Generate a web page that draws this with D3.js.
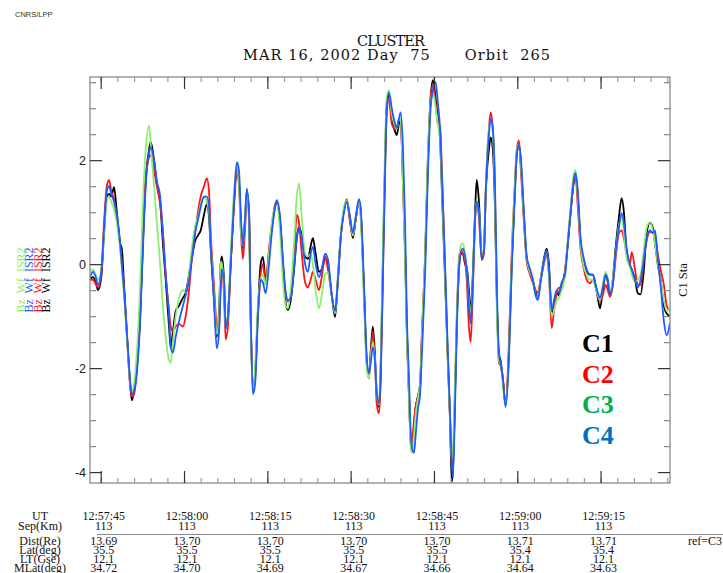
<!DOCTYPE html>
<html>
<head>
<meta charset="utf-8">
<script src="https://cdn.jsdelivr.net/npm/d3@7"></script>
<style>
  body { margin: 0; background: #fff; }
  svg { display: block; }
  text { white-space: pre; }
</style>
</head>
<body>
<svg id="chart" width="723" height="573"></svg>
<script>
// Sample times, seconds after 12:57:00 UT
const seconds = [
  43.1, 43.6, 44.1, 44.5, 45.1, 45.6, 46.1, 46.5, 46.9, 47.4,
  47.9, 48.5, 48.8, 49.2, 49.7, 50.3, 50.6, 51.0, 51.5, 52.1,
  52.6, 53.1, 53.7, 54.0, 54.6, 55.1, 55.7, 56.2, 56.7, 57.3,
  57.6, 58.0, 58.5, 59.1, 59.8, 60.3, 60.9, 61.4, 62.0, 62.5,
  63.0, 63.6, 64.1, 64.5, 64.8, 65.4, 65.9, 66.3, 66.6, 66.8,
  67.2, 67.5, 67.9, 68.4, 69.0, 69.5, 69.9, 70.2, 70.6, 71.0,
  71.3, 71.7, 72.0, 72.4, 72.8, 73.3, 73.8, 74.2, 74.7, 75.3,
  75.8, 76.4, 76.7, 77.3, 77.8, 78.3, 78.7, 79.2, 79.8, 80.3,
  80.7, 81.2, 81.8, 82.3, 82.8, 83.2, 83.7, 84.3, 84.8, 85.4,
  85.9, 86.6, 87.2, 87.7, 88.2, 88.8, 89.3, 89.9, 90.4, 90.9,
  91.5, 91.8, 92.4, 92.9, 93.3, 93.6, 94.0, 94.4, 94.7, 95.1,
  95.4, 95.8, 96.2, 96.5, 96.9, 97.4, 98.0, 98.3, 98.7, 99.0,
  99.4, 99.8, 100.1, 100.5, 100.8, 101.0, 101.4, 101.7, 102.1, 102.5,
  102.8, 103.4, 103.9, 104.4, 104.8, 105.3, 105.7, 106.1, 106.4, 107.0,
  107.5, 107.9, 108.2, 108.4, 108.8, 109.1, 109.5, 109.8, 110.2, 110.6,
  110.9, 111.3, 111.6, 112.0, 112.4, 112.7, 113.1, 113.6, 114.0, 114.3,
  114.9, 115.2, 115.6, 116.0, 116.3, 116.7, 117.0, 117.4, 117.9, 118.5,
  119.0, 119.6, 119.9, 120.3, 120.6, 121.2, 121.7, 122.3, 122.8, 123.3,
  123.7, 124.2, 124.8, 125.3, 125.7, 126.2, 126.6, 127.1, 127.5, 128.0,
  128.6, 129.1, 129.6, 130.2, 130.5, 130.9, 131.4, 132.0, 132.5, 133.1,
  133.6, 134.1, 134.5, 134.9, 135.4, 135.9, 136.3, 136.7, 137.2, 137.7,
  138.3, 138.8, 139.2, 139.7, 140.3, 140.6, 141.2, 141.7, 142.2, 142.8,
  143.3, 143.9, 144.4, 144.8, 145.3, 145.8, 146.4, 146.9, 147.5
];

// Bz waveform (nT), one list per spacecraft
const bzC1 = [
  -0.3, -0.25, -0.35, -0.5, -0.25, 0.6, 1.3, 1.35, 1.3, 1.48,
  1.0, 0.4, 0.3, -0.4, -1.3, -2.3, -2.62, -2.45, -2.0, -1.0,
  0.4, 1.6, 2.2, 2.35, 2.0, 1.55, 1.2, 0.4, -0.3, -1.2,
  -1.6, -1.3, -0.9, -0.8, -0.65, -0.55, -0.2, 0.1, 0.45, 0.55,
  0.65, 0.95, 1.15, 0.9, 0.3, -0.7, -1.4, -0.9, 0.0, 0.15,
  -0.3, -1.2, -1.0, 0.0, 1.2, 1.85, 1.6, 0.9, 0.3, 0.9,
  1.4, 1.0, -1.0, -2.4, -2.1, -0.9, 0.0, 0.14, -0.3, 0.2,
  0.7, 1.1, 1.2, 0.8, 0.0, -0.75, -0.88, -0.7, -0.1, 0.5,
  0.72, 0.55, 0.15, 0.1, 0.35, 0.5, 0.2, -0.15, -0.1, 0.1,
  0.0, -0.6, -1.02, -0.3, 0.5, 1.05, 1.22, 0.85, 0.5, 0.85,
  1.2, 1.0, -0.5, -1.9, -2.15, -1.7, -1.2, -1.8, -2.5, -2.75,
  -2.0, 0.0, 2.0, 3.1, 3.25, 2.8, 2.55, 2.48, 2.7, 2.75,
  1.7, 0.3, -1.2, -2.5, -3.4, -3.55, -3.1, -2.75, -2.55, -2.3,
  -1.5, 0.1, 2.0, 3.2, 3.54, 3.2, 2.8, 2.4, 1.5, -0.3,
  -1.85, -3.0, -4.19, -4.0, -2.5, -1.2, -0.1, 0.2, 0.2, 0.0,
  -0.05, -0.5, -0.9, -0.2, 1.0, 1.62, 1.2, 0.2, 0.2, 1.3,
  2.2, 2.44, 2.2, 1.0, -0.6, -1.75, -1.85, -2.2, -2.7, -1.7,
  0.0, 1.5, 2.1, 2.3, 2.0, 0.9, 0.1, -0.15, -0.3, -0.55,
  -0.65, -0.3, 0.1, 0.3, 0.0, -0.95, -0.8, -0.55, -0.6, -0.4,
  -0.15, 0.4, 1.0, 1.6, 1.7, 1.3, 0.4, 0.0, -0.15, -0.2,
  -0.2, -0.4, -0.65, -0.85, -0.5, -0.2, -0.35, -0.6, -0.3, 0.3,
  0.9, 1.27, 1.0, 0.2, -0.05, -0.1, -0.3, -0.56, -0.58, -0.1,
  0.6, 0.8, 0.7, 0.4, 0.0, -0.3, -0.8, -0.95, -1.0
];
const bzC2 = [
  -0.3, -0.3, -0.38, -0.45, -0.2, 0.8, 1.5, 1.62, 1.4, 1.25,
  0.9, 0.35, 0.0, -0.5, -1.35, -2.35, -2.55, -2.5, -2.0, -0.9,
  0.5, 1.7, 2.05, 2.1, 1.8, 1.5, 1.15, 0.6, -0.2, -0.9,
  -1.2, -1.3, -1.2, -1.15, -1.2, -1.0, -0.5, 0.1, 0.6, 1.0,
  1.3, 1.5, 1.65, 1.4, 0.6, -0.4, -1.2, -1.3, -0.3, -0.1,
  -0.6, -1.45, -1.2, 0.0, 1.1, 1.8, 1.5, 0.7, 0.1, 0.7,
  1.3, 0.9, -1.0, -2.4, -2.2, -1.0, -0.2, 0.0, -0.35, 0.3,
  0.75, 1.15, 1.2, 0.8, 0.0, -0.55, -0.72, -0.6, 0.1, 0.95,
  0.8, 0.2, -0.35, -0.45, -0.3, -0.15, -0.3, -0.5, -0.25, 0.15,
  -0.1, -0.6, -0.9, -0.3, 0.5, 1.05, 1.25, 0.8, 0.55, 0.85,
  1.2, 1.0, -0.5, -1.9, -2.2, -1.8, -1.3, -1.9, -2.7, -2.87,
  -2.3, -0.2, 1.8, 2.9, 3.19, 2.7, 2.6, 2.6, 2.8, 2.8,
  1.6, 0.2, -1.2, -2.5, -3.4, -3.55, -3.0, -2.75, -2.55, -2.35,
  -1.4, 0.1, 1.9, 3.2, 3.45, 3.1, 2.7, 2.64, 1.9, -0.1,
  -1.8, -3.0, -3.9, -3.9, -2.4, -1.1, 0.1, 0.27, 0.2, 0.05,
  -0.3, -1.2, -1.5, -0.5, 0.8, 1.15, 0.9, 0.08, 0.2, 1.3,
  2.6, 2.92, 2.6, 1.3, -0.5, -1.9, -1.95, -2.2, -2.7, -1.5,
  0.2, 1.6, 2.2, 2.38, 1.9, 0.8, 0.05, -0.2, -0.35, -0.5,
  -0.55, -0.3, 0.0, 0.2, -0.2, -1.23, -0.9, -0.55, -0.45, -0.5,
  -0.1, 0.4, 1.0, 1.6, 1.69, 1.1, 0.3, -0.1, -0.3, -0.37,
  -0.3, -0.45, -0.6, -0.7, -0.6, -0.4, -0.5, -0.63, -0.4, 0.1,
  0.6, 0.65, 0.5, 0.2, 0.0, 0.23, -0.1, -0.4, -0.4, 0.1,
  0.45, 0.62, 0.6, 0.55, 0.2, -0.1, -0.4, -0.8, -0.9
];
const bzC3 = [
  -0.15, -0.1, -0.2, -0.3, -0.1, 0.6, 1.2, 1.3, 1.2, 1.05,
  0.8, 0.3, -0.1, -0.6, -1.4, -2.3, -2.45, -2.3, -1.7, -0.4,
  1.2, 2.2, 2.67, 2.3, 1.5, 0.8, 0.0, -0.8, -1.4, -1.85,
  -1.9, -1.5, -1.0, -0.65, -0.5, -0.55, -0.2, 0.3, 0.75, 0.9,
  1.15, 1.3, 1.2, 1.0, 0.4, -0.6, -1.35, -1.0, 0.05, 0.0,
  -0.4, -1.25, -1.0, 0.2, 1.4, 1.9, 1.55, 0.7, 0.35, 0.9,
  1.35, 0.8, -1.2, -2.5, -2.0, -0.8, -0.3, -0.2, -0.4, 0.2,
  0.8, 1.1, 1.15, 0.6, -0.3, -0.8, -0.85, -0.5, 0.4, 1.3,
  1.55, 0.9, 0.2, 0.15, 0.2, 0.0, -0.5, -0.85, -0.6, -0.2,
  -0.15, -0.6, -0.95, -0.2, 0.55, 1.1, 1.22, 0.9, 0.55, 0.9,
  1.2, 0.9, -0.7, -2.0, -2.2, -1.8, -1.5, -1.9, -2.5, -2.7,
  -1.9, 0.3, 2.3, 3.2, 3.35, 2.9, 2.65, 2.6, 2.8, 2.8,
  1.6, 0.1, -1.3, -2.6, -3.5, -3.63, -3.3, -2.9, -2.6, -2.3,
  -1.5, 0.2, 2.1, 3.1, 3.3, 3.0, 2.7, 2.4, 1.6, -0.2,
  -1.9, -3.0, -3.77, -3.6, -2.2, -1.0, 0.0, 0.35, 0.4, 0.2,
  -0.1, -0.7, -1.0, -0.3, 0.9, 1.23, 1.0, 0.2, 0.3, 1.4,
  2.6, 2.75, 2.5, 1.2, -0.8, -1.9, -1.9, -2.3, -2.7, -1.7,
  0.1, 1.6, 2.2, 2.3, 2.0, 0.9, 0.1, -0.15, -0.3, -0.6,
  -0.65, -0.3, 0.05, 0.25, -0.2, -1.0, -0.9, -0.7, -0.65, -0.5,
  -0.2, 0.5, 1.1, 1.75, 1.81, 1.3, 0.4, -0.05, -0.2, -0.3,
  -0.3, -0.45, -0.6, -0.69, -0.4, -0.15, -0.3, -0.5, -0.3, 0.2,
  0.75, 0.9, 0.6, 0.1, -0.05, -0.2, -0.35, -0.3, -0.2, 0.3,
  0.7, 0.81, 0.65, 0.4, 0.0, -0.3, -0.7, -0.9, -0.85
];
const bzC4 = [
  -0.25, -0.15, -0.25, -0.4, -0.15, 0.7, 1.4, 1.5, 1.35, 1.2,
  0.95, 0.4, 0.0, -0.5, -1.3, -2.25, -2.5, -2.45, -2.1, -1.1,
  0.3, 1.5, 2.15, 2.25, 2.0, 1.6, 1.3, 0.6, -0.2, -1.0,
  -1.6, -1.7, -1.4, -1.1, -0.8, -0.6, -0.3, 0.1, 0.6, 0.85,
  1.1, 1.3, 1.3, 1.1, 0.4, -0.7, -1.62, -1.3, -0.5, -0.1,
  -0.3, -1.25, -1.0, 0.0, 1.2, 1.96, 1.8, 1.0, 0.35, 0.9,
  1.45, 1.0, -0.9, -2.5, -2.3, -1.0, -0.3, -0.35, -0.56, 0.0,
  0.6, 1.1, 1.23, 0.9, 0.1, -0.55, -0.7, -0.65, -0.1, 0.5,
  0.7, 0.5, 0.0, -0.15, 0.2, 0.33, 0.0, -0.25, -0.1, 0.2,
  0.1, -0.6, -0.9, -0.3, 0.5, 1.0, 1.2, 0.9, 0.6, 0.9,
  1.25, 1.1, -0.4, -1.8, -2.1, -1.9, -1.6, -1.9, -2.5, -2.68,
  -2.2, -0.3, 1.8, 3.0, 3.3, 3.0, 2.7, 2.62, 2.8, 2.92,
  2.3, 0.8, -0.9, -2.2, -3.2, -3.5, -3.63, -3.3, -2.8, -2.5,
  -1.8, -0.2, 1.7, 3.0, 3.35, 3.5, 3.1, 2.6, 1.8, 0.0,
  -1.7, -2.9, -3.8, -4.1, -2.7, -1.3, -0.1, 0.2, 0.3, 0.15,
  -0.1, -0.8, -1.14, -0.4, 0.9, 1.2, 1.0, 0.1, 0.25, 1.3,
  2.5, 2.8, 2.6, 1.5, -0.3, -1.7, -1.9, -2.2, -2.75, -1.8,
  -0.1, 1.4, 2.1, 2.3, 2.1, 1.0, 0.15, -0.1, -0.3, -0.6,
  -0.69, -0.35, 0.05, 0.25, -0.1, -0.9, -0.7, -0.5, -0.55, -0.35,
  -0.2, 0.4, 1.0, 1.65, 1.75, 1.4, 0.5, 0.1, -0.1, -0.2,
  -0.2, -0.4, -0.55, -0.65, -0.45, -0.2, -0.3, -0.6, -0.4, 0.2,
  0.7, 0.98, 0.8, 0.3, 0.0, -0.1, -0.3, -0.45, -0.3, 0.1,
  0.5, 0.65, 0.6, 0.65, 0.1, -0.4, -1.1, -1.37, -1.13
];

const spacecraft = ["C1", "C2", "C3", "C4"];
const traceColors = ["#000000", "#ff1414", "#8cf06a", "#1f5cff"];
const legendColors = ["#000000", "#ff0000", "#00b050", "#0070c0"];
const yLabelValues = [-4, -2, 0, 2];

// Orbit table under the plot
const tableTimes = [45, 60, 75, 90, 105, 120, 135];
const utLabels = ["12:57:45", "12:58:00", "12:58:15", "12:58:30", "12:58:45", "12:59:00", "12:59:15"];
const sepKm = ["113", "113", "113", "113", "113", "113", "113"];
const distRe = ["13.69", "13.70", "13.70", "13.70", "13.70", "13.71", "13.71"];
const latDeg = ["35.5", "35.5", "35.5", "35.5", "35.5", "35.4", "35.4"];
const ltGse = ["12.1", "12.1", "12.1", "12.1", "12.1", "12.1", "12.1"];
const mlatDeg = ["34.72", "34.70", "34.69", "34.67", "34.66", "34.64", "34.63"];

const plot = { left: 90, right: 670, top: 77, bottom: 483 };
const svg = d3.select("#chart");
const serif = "'Liberation Serif', 'Times New Roman', serif";
const wideSerif = "'DejaVu Serif', 'Liberation Serif', serif";
const sans = "'Liberation Sans', Arial, sans-serif";

const x = d3.scaleLinear().domain([43.07, 147.5]).range([plot.left, plot.right]);
const y = d3.scaleLinear().domain([-4.21, 3.6]).range([plot.bottom, plot.top]);

svg.append("rect").attr("width", 723).attr("height", 573).attr("fill", "#fff");

svg.append("defs").append("clipPath").attr("id", "plotClip")
  .append("rect")
  .attr("x", plot.left).attr("y", plot.top)
  .attr("width", plot.right - plot.left).attr("height", plot.bottom - plot.top);

// Traces, C1 drawn first and C4 last
const line = d3.line()
  .x(d => x(d[0]))
  .y(d => y(d[1]))
  .curve(d3.curveMonotoneX);

const allSeries = [bzC1, bzC2, bzC3, bzC4];
const traces = svg.append("g").attr("clip-path", "url(#plotClip)");
allSeries.forEach((vals, i) => {
  traces.append("path")
    .datum(d3.zip(seconds, vals))
    .attr("d", line)
    .attr("fill", "none")
    .attr("stroke", traceColors[i])
    .attr("stroke-width", 1.8)
    .attr("stroke-linejoin", "round");
});

// Frame
svg.append("rect")
  .attr("x", plot.left).attr("y", plot.top)
  .attr("width", plot.right - plot.left).attr("height", plot.bottom - plot.top)
  .attr("fill", "none").attr("stroke", "#8a8a8a").attr("stroke-width", 1.3);

// Tick marks on all four sides, pointing inward
const minorX = d3.range(45, 147.6, 3);
const majorX = d3.range(45, 136, 15);
const minorY = d3.range(-4, 3.6, 0.5).filter(v => v % 2 !== 0);
const majorY = [-4, -2, 0, 2];

function tickGroup(axis, tx, ty, color, width) {
  const g = svg.append("g").attr("transform", `translate(${tx},${ty})`).call(axis);
  g.select(".domain").remove();
  g.selectAll(".tick line").attr("stroke", color).attr("stroke-width", width);
  g.selectAll(".tick text").remove();
  return g;
}
tickGroup(d3.axisBottom(x).tickValues(minorX).tickSize(-5), 0, plot.bottom, "#9a9a9a", 1.2);
tickGroup(d3.axisBottom(x).tickValues(majorX).tickSize(-12), 0, plot.bottom, "#333", 1.2);
tickGroup(d3.axisTop(x).tickValues(minorX).tickSize(-5), 0, plot.top, "#9a9a9a", 1.2);
tickGroup(d3.axisTop(x).tickValues(majorX).tickSize(-12), 0, plot.top, "#333", 1.2);
tickGroup(d3.axisLeft(y).tickValues(minorY).tickSize(-6), plot.left, 0, "#8a8a8a", 1.2);
tickGroup(d3.axisLeft(y).tickValues(majorY).tickSize(-12), plot.left, 0, "#333", 1.2);
tickGroup(d3.axisRight(y).tickValues(minorY).tickSize(-6), plot.right, 0, "#8a8a8a", 1.2);
tickGroup(d3.axisRight(y).tickValues(majorY).tickSize(-12), plot.right, 0, "#333", 1.2);

// Y tick labels
const yLab = svg.append("g").attr("transform", `translate(${plot.left},0)`)
  .call(d3.axisLeft(y).tickValues(yLabelValues).tickSize(0).tickPadding(4)
    .tickFormat(d => d < 0 ? "-" + Math.abs(d) : String(d)));
yLab.select(".domain").remove();
yLab.selectAll("text").attr("font-family", sans).attr("font-size", 12.5).attr("fill", "#222");

// Header
svg.append("text").attr("x", 15).attr("y", 17)
  .attr("font-family", sans).attr("font-size", 7.5).attr("fill", "#333").text("CNRS/LPP");
svg.append("text").attr("x", 391).attr("y", 46).attr("text-anchor", "middle")
  .attr("font-family", wideSerif).attr("font-size", 14.5).attr("fill", "#111")
  .attr("textLength", 68).attr("lengthAdjust", "spacing").text("CLUSTER");
svg.append("text").attr("x", 243).attr("y", 60)
  .attr("font-family", wideSerif).attr("font-size", 14.5).attr("fill", "#111")
  .attr("textLength", 307).attr("lengthAdjust", "spacing")
  .text("MAR 16, 2002 Day  75      Orbit  265");

// Rotated instrument labels at left, one per spacecraft colour
const leftLabelColors = [traceColors[2], traceColors[3], traceColors[1], traceColors[0]];
[21, 29.5, 38, 46.5].forEach((cx, i) => {
  svg.append("text")
    .attr("transform", `translate(${cx},280) rotate(-90)`)
    .attr("text-anchor", "middle").attr("dy", "0.33em")
    .attr("font-family", serif).attr("font-size", 12)
    .attr("fill", leftLabelColors[i])
    .text("Bz  Wf  ISR2");
});

// Reference spacecraft label at right
svg.append("text")
  .attr("transform", "translate(683,280) rotate(-90)")
  .attr("text-anchor", "middle").attr("dy", "0.33em")
  .attr("font-family", serif).attr("font-size", 12.5).attr("fill", "#111")
  .text("C1 Sta");

// Spacecraft legend
spacecraft.forEach((name, i) => {
  svg.append("text")
    .attr("x", 582).attr("y", 352 + i * 30.5)
    .attr("font-family", serif).attr("font-size", 26).attr("font-weight", "bold")
    .attr("fill", legendColors[i]).text(name);
});

// Orbit table: narrow, tall glyphs in tightly packed rows
const rows = [
  { label: "UT", vals: utLabels, y: 520 },
  { label: "Sep(Km)", vals: sepKm, y: 530 },
  { label: "Dist(Re)", vals: distRe, y: 545 },
  { label: "Lat(deg)", vals: latDeg, y: 554 },
  { label: "LT(Gse)", vals: ltGse, y: 563 },
  { label: "MLat(deg)", vals: mlatDeg, y: 572 }
];
const table = svg.append("g").attr("font-family", serif).attr("font-size", 12).attr("fill", "#111");
function cell(tx, ty, txt, anchor) {
  table.append("text")
    .attr("transform", `translate(${tx},${ty}) scale(1,1.12)`)
    .attr("text-anchor", anchor).text(txt);
}
rows.forEach(r => {
  cell(40, r.y, r.label, "middle");
  r.vals.forEach((v, j) => cell(x(tableTimes[j]) + 3, r.y, v, "middle"));
});
cell(722, 545, "ref=C3", "end");
svg.append("line").attr("x1", 97).attr("x2", 723).attr("y1", 534.5).attr("y2", 534.5)
  .attr("stroke", "#8a8a8a").attr("stroke-width", 1);
</script>
</body>
</html>
